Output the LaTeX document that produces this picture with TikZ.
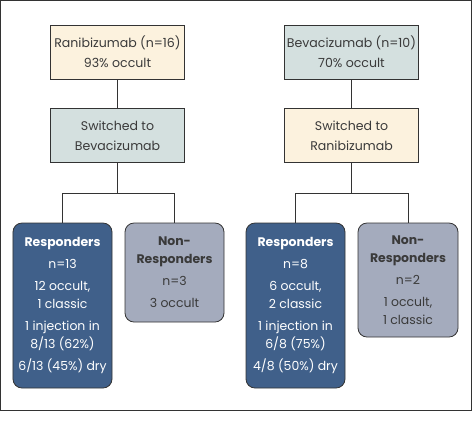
\documentclass[tikz,border=0pt]{standalone}
\usepackage{fontspec}
\setmainfont{Poppins}
\definecolor{yel}{HTML}{FCF2DE}
\definecolor{teal}{HTML}{D4E0DF}
\definecolor{dblue}{HTML}{40608A}
\definecolor{lblue}{HTML}{A4ABBD}
\definecolor{txt}{HTML}{3A3A3A}
\definecolor{frame}{HTML}{333333}
\begin{document}
\begin{tikzpicture}[x=1bp,y=-1bp,
  box/.style={draw=frame, line width=0.8bp, align=center, inner sep=0pt,
    font=\fontsize{12.5}{18}\selectfont, text=txt},
  topbox/.style={box, minimum width=134bp, minimum height=54bp, font=\fontsize{12.6}{20}\selectfont},
  rbox/.style={box, rounded corners=9bp, minimum width=99bp, fill=dblue, text=white},
  nbox/.style={box, rounded corners=9bp, minimum width=99bp, fill=lblue},
  conn/.style={draw=frame, line width=0.9bp}]
\useasboundingbox (0,0) rectangle (472,423);
\fill[white] (0,0) rectangle (472,423);
\draw[line width=1.3bp, draw=frame] (0.65,0.65) rectangle (471.35,410.5);
% left
\node[topbox, fill=yel] (r1) at (117.5,52) {Ranibizumab (n=16)\\93\% occult};
\node[topbox, fill=teal] (r2) at (117.5,135.5) {Switched to\\Bevacizumab};
\node[rbox, minimum height=165bp] (lr) at (62.5,305.5)
  {\textbf{Responders}\\[4pt]n=13\\[4pt]12 occult,\\1 classic\\[4pt]1 injection in\\8/13 (62\%)\\[4pt]6/13 (45\%) dry};
\node[nbox, minimum height=99bp] (ln) at (174.5,272.5)
  {\textbf{Non-}\\\textbf{Responders}\\[4pt]n=3\\[4pt]3 occult};
\draw[conn] (r1) -- (r2);
\draw[conn] (r2.south) -- ++(0,31) coordinate (jl);
\draw[conn] (lr.north) |- (jl) -| (ln.north);
% right
\node[topbox, fill=teal] (b1) at (351.5,52) {Bevacizumab (n=10)\\70\% occult};
\node[topbox, fill=yel] (b2) at (351.5,135.5) {Switched to\\Ranibizumab};
\node[rbox, minimum height=165bp] (rr) at (295.5,305.5)
  {\textbf{Responders}\\[4pt]n=8\\[4pt]6 occult,\\2 classic\\[4pt]1 injection in\\6/8 (75\%)\\[4pt]4/8 (50\%) dry};
\node[nbox, minimum height=114bp, minimum width=100bp] (rn) at (408,280)
  {\textbf{Non-}\\\textbf{Responders}\\[4pt]n=2\\[4pt]1 occult,\\1 classic};
\draw[conn] (b1) -- (b2);
\draw[conn] (b2.south) -- ++(0,31) coordinate (jr);
\draw[conn] (rr.north) |- (jr) -| (rn.north);
\end{tikzpicture}
\end{document}
